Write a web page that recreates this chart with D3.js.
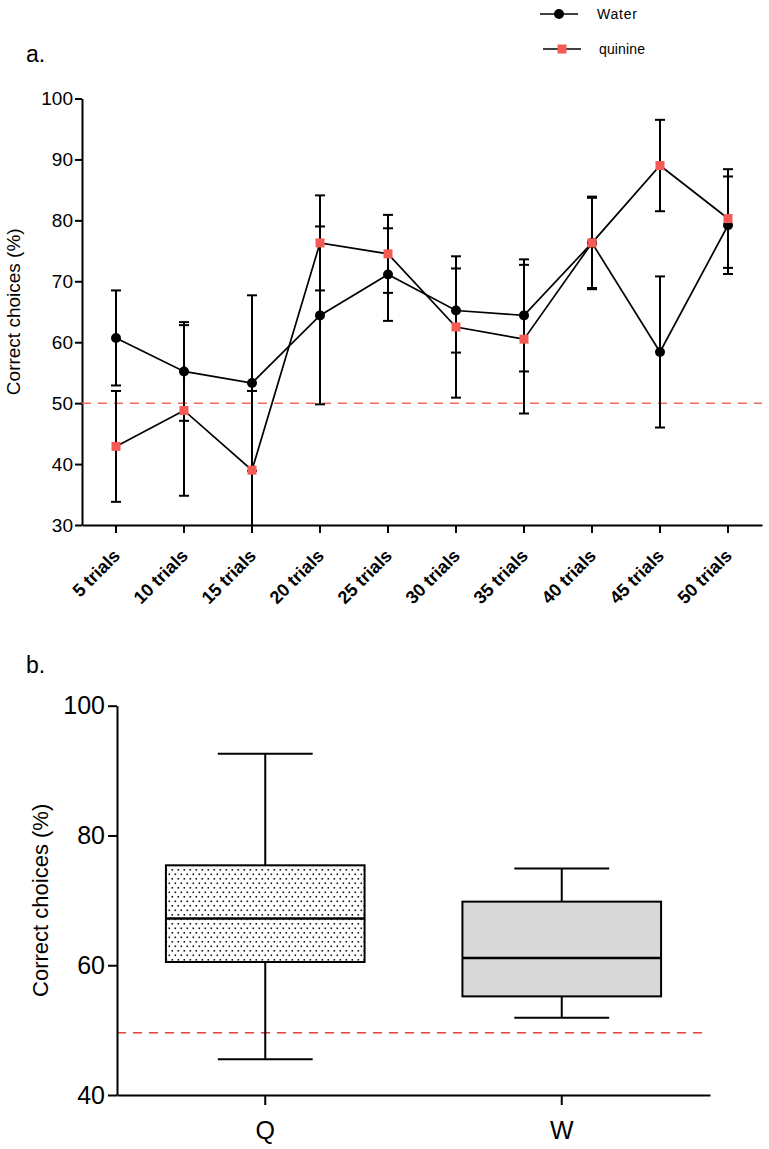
<!DOCTYPE html>
<html>
<head>
<meta charset="utf-8">
<script src="https://cdn.jsdelivr.net/npm/d3@7"></script>
<style>
  body { margin: 0; background: #fff; }
  svg { display: block; font-family: "Liberation Sans", Arial, sans-serif; }
</style>
</head>
<body>
<svg id="chart" width="769" height="1149"></svg>
<script>
// panel a: correct choices per block of trials
const trialLabels = ["5 trials", "10 trials", "15 trials", "20 trials", "25 trials",
                     "30 trials", "35 trials", "40 trials", "45 trials", "50 trials"];
const waterMean = [60.7, 55.2, 53.3, 64.4, 71.1, 65.2, 64.4, 76.3, 58.4, 79.2];
const waterErr  = [7.8, 8.1, 14.4, 14.6, 7.6, 6.9, 9.2, 7.6, 12.4, 8.0];
const quinineMean = [42.9, 48.8, 39.0, 76.3, 74.5, 62.5, 60.5, 76.3, 89.0, 80.3];
const quinineErr  = [9.1, 14.0, 13.0, 7.8, 6.4, 11.6, 12.2, 7.4, 7.5, 8.1];
const yTicksA = [30, 40, 50, 60, 70, 80, 90, 100];
const chanceA = 50;

// panel b: box plots
const boxGroups = ["Q", "W"];
const boxMin    = [45.5, 51.9];
const boxQ1     = [60.5, 55.2];
const boxMedian = [67.2, 61.1];
const boxQ3     = [75.4, 69.8];
const boxMax    = [92.6, 74.9];
const yTicksB = [40, 60, 80, 100];
const chanceB = 49.6;

const RED = "#f45b55";
const svg = d3.select("#chart");

// ---------- panel a ----------
const xA = d3.scaleBand().domain(trialLabels).range([82, 762]);
const yA = d3.scaleLinear().domain([30, 100]).range([525, 98.5]);

svg.append("text").attr("x", 26).attr("y", 62)
  .attr("font-size", 23).text("a.");

const gAy = svg.append("g").attr("transform", "translate(82,0)")
  .call(d3.axisLeft(yA).tickValues(yTicksA).tickSize(7).tickSizeOuter(0).tickPadding(2));
gAy.selectAll("text").attr("font-size", 19).attr("fill", "#000")
  .style("font-family", "'Liberation Sans', Arial, sans-serif");

const gAx = svg.append("g").attr("transform", "translate(0,525)")
  .call(d3.axisBottom(xA).tickSize(8).tickSizeOuter(0));
gAx.selectAll("text").remove();
[gAy, gAx].forEach(g => {
  g.select(".domain").attr("stroke", "#000").attr("stroke-width", 2);
  g.selectAll(".tick line").attr("stroke", "#000").attr("stroke-width", 2);
});

svg.append("g").selectAll("text").data(trialLabels).enter().append("text")
  .attr("transform", d => `translate(${xA(d) + xA.bandwidth() / 2 + 5},557) rotate(-45)`)
  .attr("text-anchor", "end")
  .attr("font-size", 18).attr("font-weight", "bold")
  .text(d => d);

svg.append("text")
  .attr("transform", `translate(20,${(yA(30) + yA(100)) / 2}) rotate(-90)`)
  .attr("text-anchor", "middle").attr("font-size", 19)
  .text("Correct choices (%)");

svg.append("line")
  .attr("x1", 82).attr("x2", 762).attr("y1", yA(chanceA)).attr("y2", yA(chanceA))
  .attr("stroke", "#ec6a62").attr("stroke-width", 1.5).attr("stroke-dasharray", "9,7");

function drawSeries(means, errs, kind) {
  const g = svg.append("g");
  const cx = i => xA(trialLabels[i]) + xA.bandwidth() / 2;
  const idx = d3.range(means.length);

  // error bars (clipped at the axis floor)
  idx.forEach(i => {
    const hi = means[i] + errs[i], lo = means[i] - errs[i];
    g.append("line").attr("x1", cx(i)).attr("x2", cx(i))
      .attr("y1", yA(hi)).attr("y2", yA(Math.max(lo, 30)))
      .attr("stroke", "#000").attr("stroke-width", 2);
    [hi, lo].filter(v => v >= 30).forEach(v => {
      g.append("line").attr("x1", cx(i) - 5).attr("x2", cx(i) + 5)
        .attr("y1", yA(v)).attr("y2", yA(v))
        .attr("stroke", "#000").attr("stroke-width", 2);
    });
  });

  g.append("path").datum(idx)
    .attr("d", d3.line().x(i => cx(i)).y(i => yA(means[i])))
    .attr("fill", "none").attr("stroke", "#000").attr("stroke-width", 1.7);

  if (kind === "circle") {
    g.selectAll("circle").data(idx).enter().append("circle")
      .attr("cx", i => cx(i)).attr("cy", i => yA(means[i])).attr("r", 5)
      .attr("fill", "#000");
  } else {
    g.selectAll("rect").data(idx).enter().append("rect")
      .attr("x", i => cx(i) - 4.5).attr("y", i => yA(means[i]) - 4.5)
      .attr("width", 9).attr("height", 9).attr("fill", RED);
  }
}
drawSeries(waterMean, waterErr, "circle");
drawSeries(quinineMean, quinineErr, "square");

// legend
const legend = svg.append("g");
legend.append("line").attr("x1", 540).attr("x2", 578).attr("y1", 14).attr("y2", 14)
  .attr("stroke", "#000").attr("stroke-width", 1.7);
legend.append("circle").attr("cx", 559).attr("cy", 14).attr("r", 5).attr("fill", "#000");
legend.append("text").attr("x", 597).attr("y", 19).attr("font-size", 14)
  .attr("textLength", 40).text("Water");
legend.append("line").attr("x1", 543).attr("x2", 581).attr("y1", 49).attr("y2", 49)
  .attr("stroke", "#000").attr("stroke-width", 1.7);
legend.append("rect").attr("x", 557.5).attr("y", 44.5).attr("width", 9).attr("height", 9)
  .attr("fill", RED);
legend.append("text").attr("x", 599).attr("y", 54).attr("font-size", 14)
  .attr("textLength", 46).text("quinine");

// ---------- panel b ----------
const xB = d3.scaleBand().domain(boxGroups).range([117, 710]);
const yB = d3.scaleLinear().domain([40, 100]).range([1095, 705.7]);

const defs = svg.append("defs");
const pat = defs.append("pattern").attr("id", "dots")
  .attr("patternUnits", "userSpaceOnUse").attr("width", 6).attr("height", 9);
pat.append("rect").attr("width", 6).attr("height", 9).attr("fill", "#fff");
pat.append("rect").attr("x", 0.5).attr("y", 0.5).attr("width", 1.6).attr("height", 1.6).attr("fill", "#111");
pat.append("rect").attr("x", 3.5).attr("y", 5).attr("width", 1.6).attr("height", 1.6).attr("fill", "#111");

svg.append("text").attr("x", 26).attr("y", 673)
  .attr("font-size", 23).text("b.");

svg.append("line")
  .attr("x1", 117).attr("x2", 705).attr("y1", yB(chanceB)).attr("y2", yB(chanceB))
  .attr("stroke", "#e8403a").attr("stroke-width", 1.5).attr("stroke-dasharray", "9,7");

const boxFill = ["url(#dots)", "#d9d9d9"];
const bw = xB.bandwidth();
boxGroups.forEach((grp, i) => {
  const cx = xB(grp) + bw / 2;
  const g = svg.append("g");
  g.append("line").attr("x1", cx).attr("x2", cx).attr("y1", yB(boxMax[i])).attr("y2", yB(boxMin[i]))
    .attr("stroke", "#000").attr("stroke-width", 2);
  [boxMax[i], boxMin[i]].forEach(v => {
    g.append("line").attr("x1", cx - bw * 0.16).attr("x2", cx + bw * 0.16)
      .attr("y1", yB(v)).attr("y2", yB(v)).attr("stroke", "#000").attr("stroke-width", 2);
  });
  g.append("rect").attr("x", cx - bw * 0.335).attr("width", bw * 0.67)
    .attr("y", yB(boxQ3[i])).attr("height", yB(boxQ1[i]) - yB(boxQ3[i]))
    .attr("fill", boxFill[i]).attr("stroke", "#000").attr("stroke-width", 2);
  g.append("line").attr("x1", cx - bw * 0.335).attr("x2", cx + bw * 0.335)
    .attr("y1", yB(boxMedian[i])).attr("y2", yB(boxMedian[i]))
    .attr("stroke", "#000").attr("stroke-width", 2.5);
});

const gBy = svg.append("g").attr("transform", "translate(117,0)")
  .call(d3.axisLeft(yB).tickValues(yTicksB).tickSize(9).tickSizeOuter(0).tickPadding(3));
gBy.selectAll("text").attr("font-size", 25).attr("fill", "#000")
  .style("font-family", "'Liberation Sans', Arial, sans-serif");
const gBx = svg.append("g").attr("transform", "translate(0,1095)")
  .call(d3.axisBottom(xB).tickSize(10).tickSizeOuter(0).tickPadding(16));
gBx.selectAll("text").attr("font-size", 25).attr("fill", "#000")
  .style("font-family", "'Liberation Sans', Arial, sans-serif");
[gBy, gBx].forEach(g => {
  g.select(".domain").attr("stroke", "#000").attr("stroke-width", 2);
  g.selectAll(".tick line").attr("stroke", "#000").attr("stroke-width", 2);
});

svg.append("text")
  .attr("transform", `translate(48,${(yB(40) + yB(100)) / 2}) rotate(-90)`)
  .attr("text-anchor", "middle").attr("font-size", 22)
  .text("Correct choices (%)");
</script>
</body>
</html>
